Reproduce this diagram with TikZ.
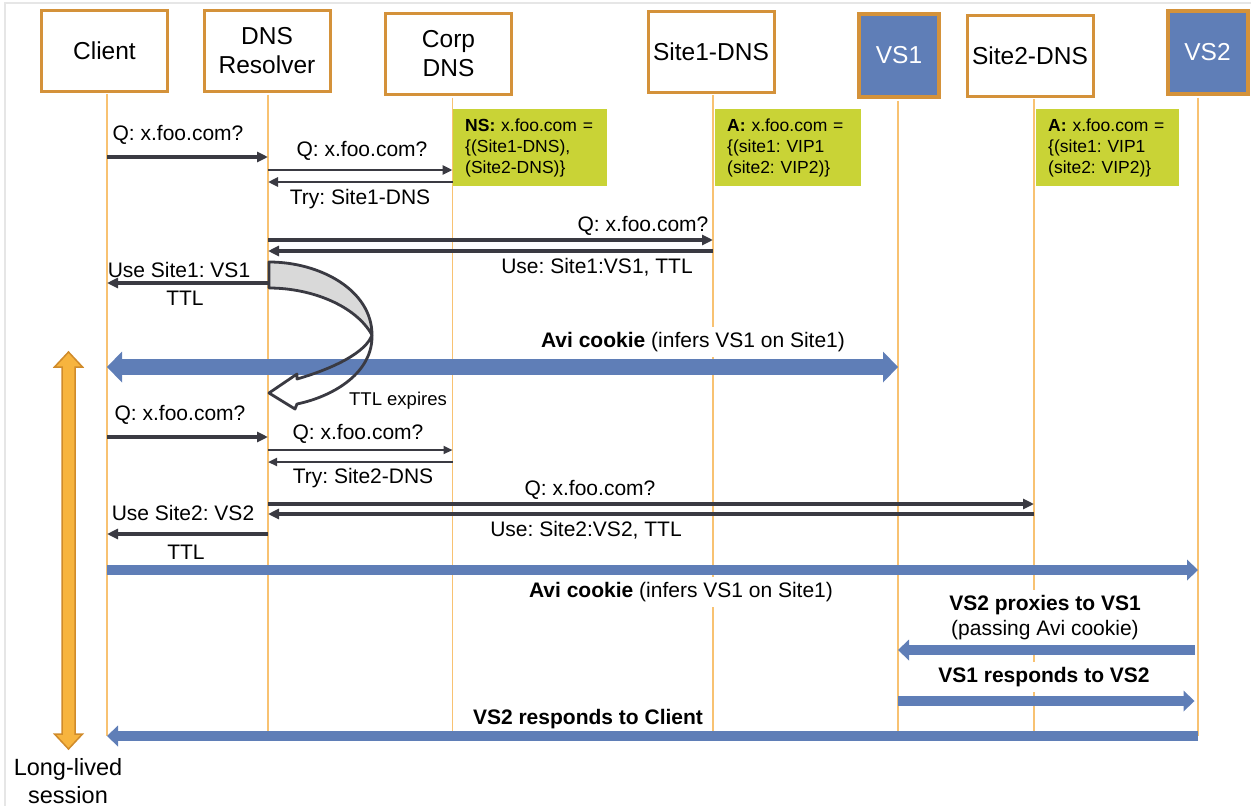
\documentclass[tikz,border=0pt]{standalone}
\usepackage{fontspec}
\setmainfont{Liberation Sans}
\usetikzlibrary{arrows.meta,calc}
\definecolor{boxorange}{HTML}{D4923A}
\definecolor{vsblue}{HTML}{5F7EB7}
\definecolor{lifeorange}{HTML}{F8C272}
\definecolor{notegreen}{HTML}{C9D336}
\definecolor{msgdark}{HTML}{3A3A42}
\definecolor{arrorange}{HTML}{F7B43E}
\definecolor{arrorangedark}{HTML}{D08B2A}
\definecolor{curvegray}{HTML}{D9D9D9}
\definecolor{framegray}{HTML}{E6E6E6}
\frenchspacing
\begin{document}
\begin{tikzpicture}[x=1pt,y=-1pt,
  actor/.style={draw=boxorange, line width=3pt, fill=white, minimum width=126pt, minimum height=81pt,
    font=\fontsize{24.5}{29}\selectfont, align=center, inner sep=0pt},
  vsbox/.style={draw=boxorange, line width=4pt, fill=vsblue, text=white, minimum width=80pt, minimum height=83pt,
    font=\fontsize{24.5}{29}\selectfont, inner sep=0pt},
  note/.style={fill=notegreen, anchor=north west, minimum height=77pt, inner xsep=12pt, inner ysep=0pt,
    font=\fontsize{17.5}{21}\selectfont, align=left},
  life/.style={draw=lifeorange, line width=1.3pt},
  msg/.style={draw=msgdark, line width=3.2pt, -{Triangle[length=11pt,width=10pt]}},
  midmsg/.style={draw=msgdark, line width=2.8pt, -{Triangle[length=10pt,width=9pt]}},
  thinmsg/.style={draw=msgdark, line width=2.2pt, -{Triangle[length=9pt,width=8pt]}},
  lbl/.style={font=\fontsize{21}{25}\selectfont, inner sep=1pt, text=black},
  wlbl/.style={lbl, fill=white, inner ysep=5pt, inner xsep=3pt, align=center},
  bigblue/.style={draw=vsblue, line width=16pt,
    {Triangle[length=15pt,width=31pt,line width=0pt]}-{Triangle[length=15pt,width=31pt,line width=0pt]}},
  blue/.style={draw=vsblue, line width=10pt, -{Triangle[length=11pt,width=21pt,line width=0pt]}}
]
\useasboundingbox (0,0) rectangle (1251,806);
\draw[framegray, line width=2pt] (5,806) -- (5,2.5) -- (1251,2.5);

% actors
\node[actor] (cl)   at (104.5,50.5) {Client};
\node[actor] (res)  at (267,51)     {DNS\\Resolver};
\node[actor] (corp) at (448.5,54)   {Corp\\DNS};
\node[actor] (s1)   at (711,51.5)   {Site1-DNS};
\node[vsbox] (vs1)  at (899,55.5)   {VS1};
\node[actor] (s2)   at (1030,55.5)  {Site2-DNS};
\node[vsbox] (vs2)  at (1207.5,52.5) {VS2};

% lifeline tops
\coordinate (Lcl)   at ([xshift=2.5pt]cl.south);
\coordinate (Lres)  at ([xshift=1pt]res.south);
\coordinate (Lcorp) at ([xshift=4pt]corp.south);
\coordinate (Ls1)   at ([xshift=2pt]s1.south);
\coordinate (Lvs1)  at ([xshift=-1pt]vs1.south);
\coordinate (Ls2)   at ([xshift=4pt]s2.south);
\coordinate (Lvs2)  at ([xshift=-9.5pt]vs2.south);
\coordinate (Lvs2b) at ([xshift=-13pt]vs2.south);
\foreach \c in {Lcl,Lres,Lcorp,Ls1,Lvs1,Ls2,Lvs2}
  \draw[life] ([yshift=-1.5pt]\c) -- (\c |- 0,736);

% notes
\node[note, text width=130pt] (n1) at (453,109) {\textbf{NS:} x.foo.com =\\\{(Site1-DNS),\\(Site2-DNS)\}};
\node[note, text width=122pt] (n2) at (715,109) {\textbf{A:} x.foo.com =\\\{(site1: VIP1\\(site2: VIP2)\}};
\node[note, text width=119pt] (n3) at (1036,109) {\textbf{A:} x.foo.com =\\\{(site1: VIP1\\(site2: VIP2)\}};

% first resolution
\draw[msg] (Lcl |- 0,157) -- (Lres |- 0,157);
\node[lbl] (t1) at (178,135) {Q: x.foo.com?};
\draw[midmsg] (Lres |- 0,170) -- (Lcorp |- 0,170);
\node[lbl] (t2) at (362,151) {Q: x.foo.com?};
\draw[midmsg] (Lcorp |- 0,182) -- (Lres |- 0,182);
\node[lbl] (t3) at (360,199) {Try: Site1-DNS};
\draw[msg] (Lres |- 0,240) -- (Ls1 |- 0,240);
\node[lbl] (t4) at (643,226) {Q: x.foo.com?};
\draw[msg] (Ls1 |- 0,251) -- (Lres |- 0,251);
\node[lbl] (t5) at (597,267) {Use: Site1:VS1, TTL};
\draw[msg] (Lres |- 0,283) -- (Lcl |- 0,283);
\node[lbl] (t6) at (179,270) {Use Site1: VS1};
\node[lbl] (t7) at (185,298) {TTL};

% long-lived session arrow
\filldraw[fill=arrorange, draw=arrorangedark, line width=1.5pt, line join=miter]
  (68.5,352) -- (82.5,367) -- (75,367) -- (75,734) -- (82.5,734) -- (68.5,749)
  -- (54.5,734) -- (62,734) -- (62,367) -- (54.5,367) -- cycle;
\node[font=\fontsize{23.5}{28}\selectfont, align=center, inner sep=0pt] (ll) at (68,781) {Long-lived\\session};

% avi cookie 1
\node[wlbl] (avi1) at (693,342) {\textbf{Avi cookie} (infers VS1 on Site1)};
\draw[bigblue] (Lcl |- 0,367) -- (Lvs1 |- 0,367);

% TTL expires curved arrow
\filldraw[fill=curvegray, draw=msgdark, line width=2.8pt, line join=round]
  (269,262) .. controls (320,262) and (372,290) .. (372,335)
  .. controls (356,306) and (312,288) .. (269,288) -- cycle;
\draw[msgdark, line width=2.8pt, line join=round]
  (372,335) .. controls (373,372) and (335,396) .. (297,404) -- (295,409) -- (269,393)
  -- (297,374) -- (297,379) .. controls (335,368) and (366,352) .. (372,335);
\node[font=\fontsize{18.5}{22}\selectfont, inner sep=1pt] (exp) at (398,401) {TTL expires};

% second resolution
\draw[msg] (Lcl |- 0,437) -- (Lres |- 0,437);
\node[lbl] (u1) at (180,415) {Q: x.foo.com?};
\draw[thinmsg] (Lres |- 0,450) -- (Lcorp |- 0,450);
\node[lbl] (u2) at (358,434) {Q: x.foo.com?};
\draw[thinmsg] (Lcorp |- 0,462) -- (Lres |- 0,462);
\node[lbl] (u3) at (363,478) {Try: Site2-DNS};
\draw[msg] (Lres |- 0,504) -- (Ls2 |- 0,504);
\node[lbl] (u4) at (590,490) {Q: x.foo.com?};
\draw[msg] (Ls2 |- 0,514) -- (Lres |- 0,514);
\node[lbl] (u5) at (586,530) {Use: Site2:VS2, TTL};
\draw[msg] (Lres |- 0,534) -- (Lcl |- 0,534);
\node[lbl] (u6) at (183,513) {Use Site2: VS2};
\node[lbl] (u7) at (186,552) {TTL};

% avi cookie 2 and proxying
\draw[blue] (Lcl |- 0,570) -- (Lvs2 |- 0,570);
\node[wlbl] (avi2) at (681,592) {\textbf{Avi cookie} (infers VS1 on Site1)};
\node[wlbl] (px) at (1045,617.5) {\textbf{VS2 proxies to VS1}\\(passing Avi cookie)};
\draw[blue] (Lvs2b |- 0,650) -- (Lvs1 |- 0,650);
\node[wlbl] (rsp) at (1044,677) {\textbf{VS1 responds to VS2}};
\draw[blue] (Lvs1 |- 0,701) -- (Lvs2b |- 0,701);
\node[lbl] (rc) at (588,719) {\textbf{VS2 responds to Client}};
\draw[blue] (Lvs2 |- 0,736) -- (Lcl |- 0,736);
\end{tikzpicture}
\end{document}
